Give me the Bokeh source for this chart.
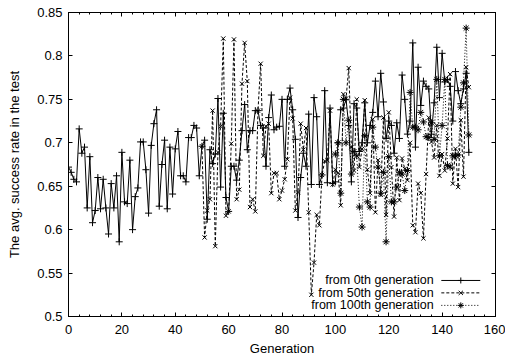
from bokeh.plotting import figure
from bokeh.models import Range1d, LinearAxis, FixedTicker, Label, CustomLabelingPolicy
from bokeh.embed import file_html
from bokeh.resources import INLINE

# ---------------- data ----------------
gen_0 = list(range(0, 151))
rate_0 = [
    0.672, 0.666, 0.658, 0.655, 0.716, 0.688, 0.695, 0.625, 0.684, 0.608,
    0.622, 0.660, 0.624, 0.658, 0.625, 0.595, 0.653, 0.625, 0.662, 0.586,
    0.689, 0.632, 0.630, 0.680, 0.600, 0.638, 0.648, 0.701, 0.701, 0.669,
    0.619, 0.697, 0.722, 0.738, 0.627, 0.675, 0.703, 0.624, 0.695, 0.641,
    0.693, 0.713, 0.662, 0.662, 0.655, 0.706, 0.706, 0.720, 0.717, 0.662,
    0.696, 0.703, 0.612, 0.692, 0.676, 0.687, 0.751, 0.649, 0.734, 0.637,
    0.621, 0.673, 0.673, 0.657, 0.680, 0.714, 0.744, 0.692, 0.714, 0.714,
    0.737, 0.737, 0.720, 0.717, 0.673, 0.729, 0.755, 0.715, 0.718, 0.719,
    0.750, 0.673, 0.750, 0.763, 0.738, 0.704, 0.614, 0.660, 0.688, 0.673,
    0.733, 0.652, 0.752, 0.730, 0.652, 0.663, 0.760, 0.654, 0.740, 0.653,
    0.655, 0.700, 0.738, 0.740, 0.750, 0.720, 0.655, 0.745, 0.740, 0.690,
    0.700, 0.746, 0.700, 0.720, 0.735, 0.771, 0.730, 0.780, 0.747, 0.705,
    0.725, 0.720, 0.688, 0.723, 0.705, 0.778, 0.750, 0.710, 0.725, 0.815,
    0.695, 0.787, 0.743, 0.771, 0.765, 0.762, 0.710, 0.746, 0.810, 0.752,
    0.803, 0.770, 0.773, 0.765, 0.725, 0.782, 0.760, 0.745, 0.762, 0.780,
    0.689,
]

gen_50 = list(range(50, 151))
rate_50 = [
    0.696, 0.591, 0.622, 0.635, 0.737, 0.581, 0.689, 0.719, 0.820, 0.616,
    0.621, 0.699, 0.819, 0.635, 0.646, 0.768, 0.815, 0.771, 0.626, 0.635,
    0.621, 0.737, 0.791, 0.685, 0.719, 0.722, 0.642, 0.665, 0.665, 0.635,
    0.645, 0.658, 0.681, 0.752, 0.728, 0.622, 0.643, 0.722, 0.692, 0.717,
    0.620, 0.525, 0.562, 0.617, 0.605, 0.663, 0.679, 0.680, 0.737, 0.652,
    0.669, 0.665, 0.628, 0.756, 0.751, 0.786, 0.695, 0.668, 0.750, 0.672,
    0.693, 0.749, 0.669, 0.642, 0.727, 0.620, 0.680, 0.640, 0.729, 0.617,
    0.735, 0.672, 0.615, 0.683, 0.634, 0.682, 0.670, 0.657, 0.700, 0.605,
    0.597, 0.653, 0.642, 0.590, 0.664, 0.729, 0.701, 0.683, 0.720, 0.662,
    0.687, 0.668, 0.705, 0.779, 0.653, 0.693, 0.649, 0.726, 0.661, 0.787,
    0.764,
]

gen_100 = list(range(100, 151))
rate_100 = [
    0.687, 0.700, 0.642, 0.750, 0.700, 0.726, 0.664, 0.690, 0.685, 0.626,
    0.603, 0.708, 0.632, 0.626, 0.718, 0.695, 0.672, 0.642, 0.666, 0.586,
    0.684, 0.632, 0.632, 0.649, 0.666, 0.664, 0.645, 0.668, 0.758, 0.718,
    0.718, 0.715, 0.735, 0.724, 0.707, 0.706, 0.723, 0.704, 0.773, 0.685,
    0.720, 0.773, 0.674, 0.672, 0.685, 0.685, 0.686, 0.741, 0.769, 0.832,
    0.709,
]

series_names = ["from 0th generation", "from 50th generation", "from 100th generation"]
x_ticks = [0, 20, 40, 60, 80, 100, 120, 140, 160]
x_minor_ticks = [0, 4, 8, 12, 16, 20, 24, 28, 32, 36, 40, 44, 48, 52, 56, 60, 64, 68, 72, 76,
                 80, 84, 88, 92, 96, 100, 104, 108, 112, 116, 120, 124, 128, 132, 136, 140,
                 144, 148, 152, 156, 160]
y_ticks = [0.5, 0.55, 0.6, 0.65, 0.7, 0.75, 0.8, 0.85]
x_title = "Generation"
y_title = "The avg. success rate in the test"

# legend placement (data units of the frame)
LEG_TEXT_X = 136.8
LEG_LINE_X0, LEG_LINE_X1, LEG_MARK_X = 139.7, 154.3, 147.0
LEG_ROWS = [0.5415, 0.5272, 0.5128]

FONT = "Liberation Sans"

p = figure(width=505, height=358,
           x_range=Range1d(0, 160), y_range=Range1d(0.5, 0.85),
           output_backend="svg", toolbar_location=None,
           min_border_left=68, min_border_right=10,
           min_border_top=12, min_border_bottom=41)
p.grid.visible = False
p.outline_line_color = "black"
p.outline_line_width = 1
p.background_fill_color = "white"
p.border_fill_color = "white"

hide_all = CustomLabelingPolicy(code="""
    if (indices != null && typeof indices.unset === 'function') {
        for (const i of Array.from(indices)) indices.unset(i)
        return indices
    }
    return new Set()
""")

def style_axis(ax, ticks, minor=None, labels=True):
    ax.ticker = FixedTicker(ticks=ticks, minor_ticks=minor or [])
    ax.major_tick_in = 4
    ax.major_tick_out = 0
    ax.minor_tick_in = 2
    ax.minor_tick_out = 0
    ax.major_tick_line_color = "black"
    ax.minor_tick_line_color = "black"
    ax.axis_line_color = "black"
    ax.major_label_text_font = FONT
    ax.major_label_text_color = "black"
    ax.major_label_text_font_size = "13px"
    if not labels:
        ax.major_label_policy = hide_all
        ax.major_label_text_font_size = "1px"
        ax.major_label_standoff = 0

style_axis(p.xaxis[0], x_ticks, x_minor_ticks)
style_axis(p.yaxis[0], y_ticks)
p.xaxis[0].major_label_standoff = 8
p.yaxis[0].major_label_standoff = 6
p.xaxis[0].axis_label = x_title
p.yaxis[0].axis_label = y_title
for ax in (p.xaxis[0], p.yaxis[0]):
    ax.axis_label_text_font = FONT
    ax.axis_label_text_font_style = "normal"
    ax.axis_label_text_font_size = "13px"
    ax.axis_label_text_color = "black"
p.xaxis[0].axis_label_standoff = 4
p.yaxis[0].axis_label_standoff = 12

top = LinearAxis()
style_axis(top, x_ticks, x_minor_ticks, labels=False)
p.add_layout(top, "above")
right = LinearAxis()
style_axis(right, y_ticks, labels=False)
p.add_layout(right, "right")

# series
p.line(gen_0, rate_0, line_color="black", line_width=1)
p.scatter(gen_0, rate_0, marker="cross", size=7, line_color="black", line_width=1)

p.line(gen_50, rate_50, line_color="black", line_width=1, line_dash="3 2")
p.scatter(gen_50, rate_50, marker="x", size=6, line_color="black", line_width=1)

p.line(gen_100, rate_100, line_color="black", line_width=1, line_dash="1 2")
p.scatter(gen_100, rate_100, marker="asterisk", size=7, line_color="black", line_width=1)

# gnuplot-style key: text, then sample to the right
markers = ["cross", "x", "asterisk"]
dashes = ["solid", "3 2", "1 2"]
for name, yrow, mk, dash in zip(series_names, LEG_ROWS, markers, dashes):
    p.add_layout(Label(x=LEG_TEXT_X, y=yrow, text=name, text_align="right",
                       text_baseline="middle", text_font=FONT,
                       text_font_size="12.5px", text_color="black"))
    p.line([LEG_LINE_X0, LEG_LINE_X1], [yrow, yrow], line_color="black",
           line_width=1, line_dash=dash)
    p.scatter([LEG_MARK_X], [yrow], marker=mk, size=6, line_color="black", line_width=1)

open("out.html", "w").write(file_html(p, INLINE))
